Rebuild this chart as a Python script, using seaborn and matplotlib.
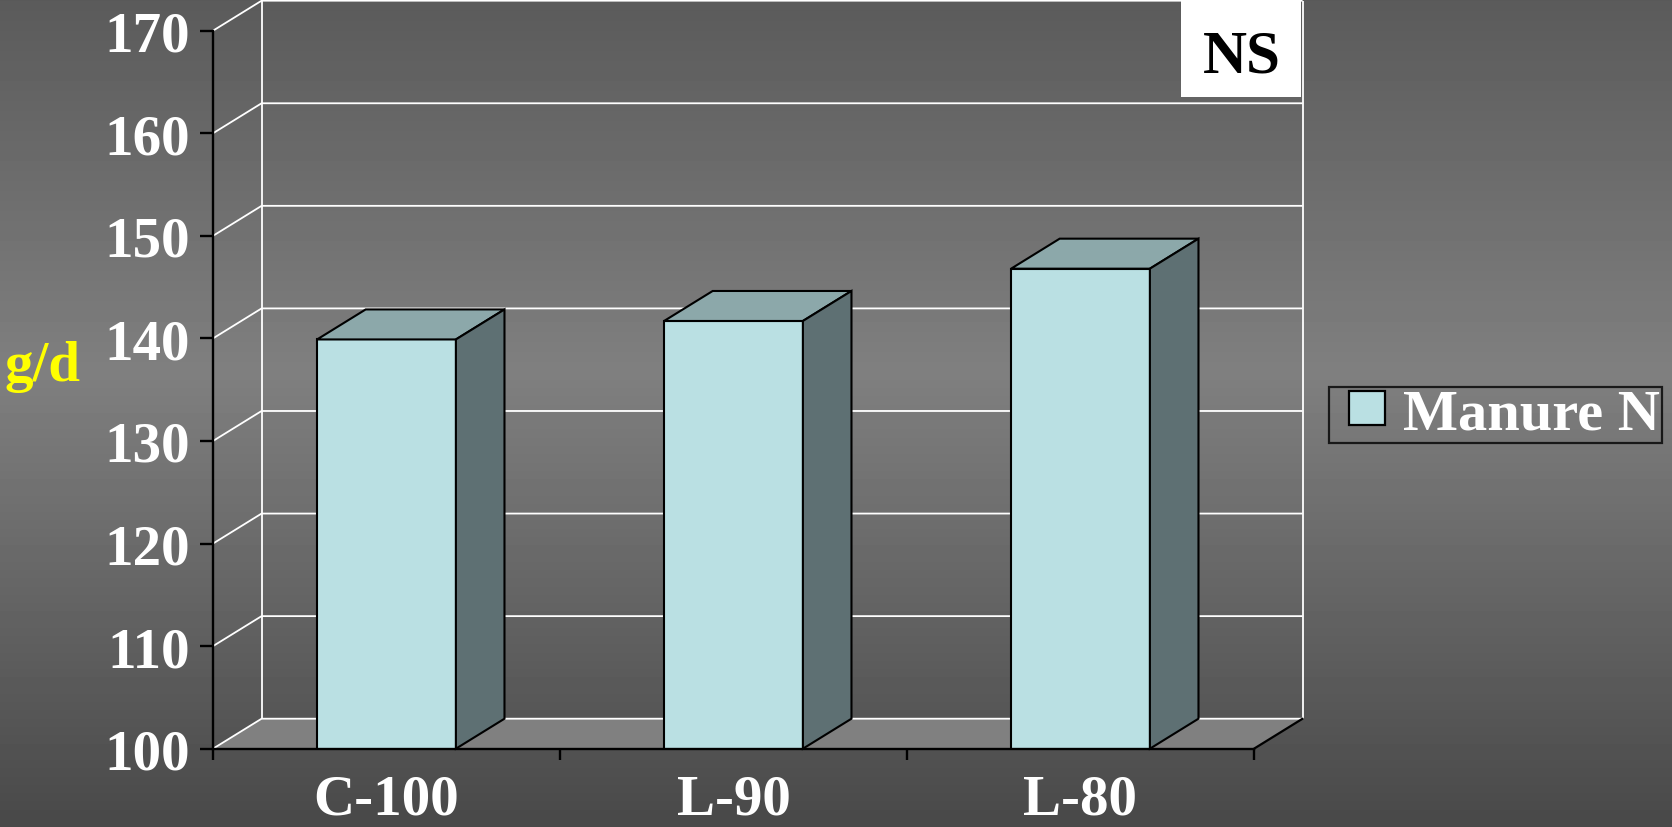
import numpy as np
import pandas as pd
import matplotlib
matplotlib.use("Agg")
import matplotlib.pyplot as plt
from matplotlib.patches import Polygon, Rectangle
from matplotlib.legend_handler import HandlerPatch
import seaborn as sns

# ---- data -------------------------------------------------------------
categories = ["C-100", "L-90", "L-80"]
manure_n = [139.9, 141.7, 146.8]
series_name = "Manure N"
y_ticks = [100, 110, 120, 130, 140, 150, 160, 170]
y_label = "g/d"
significance = "NS"

# ---- style ------------------------------------------------------------
front_color = "#bae0e3"
top_color = "#8ca8aa"
side_color = "#5e7073"
floor_color = "#808080"
FS = 41      # tick / axis text, pt
LEG_FS = 42  # legend text, pt

sns.set_theme(style="white")
plt.rcParams["font.family"] = ["Liberation Serif", "DejaVu Serif"]
plt.rcParams["font.weight"] = "bold"

W, H, DPI = 1672, 828, 100
fig = plt.figure(figsize=(W / DPI, H / DPI), dpi=DPI)

# vertical grey gradient behind everything
bg = fig.add_axes([0, 0, 1, 1], zorder=-10)
rows = np.linspace(0, 1, H)
shade = np.interp(rows, [0, 0.45, 1], [0.355, 0.50, 0.285])
bg.imshow(np.repeat(shade[:, None], 2, axis=1), cmap="gray", vmin=0, vmax=1,
          aspect="auto", extent=[0, 1, 0, 1], origin="upper")
bg.set_axis_off()

# front plane of the 3-D box
ax = fig.add_axes([213 / W, 1 - 749.7 / H, (1254 - 213) / W, (749.7 - 31.7) / H])
ax.set_facecolor("none")

df = pd.DataFrame({"treatment": categories, "value": manure_n,
                   "series": [series_name] * len(categories)})
sns.barplot(data=df, x="treatment", y="value", hue="series",
            palette=[front_color], saturation=1, width=0.4,
            edgecolor="black", linewidth=1.5, ax=ax, legend=True)
bars = list(ax.containers[0])

# depth of the pseudo 3-D box (category units, value units)
dx, dy = 0.14, 2.925
x0, x1 = -0.5, len(categories) - 0.5
ybot, ytop = y_ticks[0], y_ticks[-1]

# floor
ax.add_patch(Polygon([(x0, ybot), (x1, ybot), (x1 + dx, ybot + dy), (x0 + dx, ybot + dy)],
                     closed=True, facecolor=floor_color, edgecolor="none",
                     zorder=0.5, clip_on=False))

# gridlines on side wall and back wall
grid_kw = dict(color="white", lw=1.3, zorder=1, clip_on=False, solid_capstyle="butt")
for v in y_ticks:
    ax.plot([x0, x0 + dx, x1 + dx], [v, v + dy, v + dy], **grid_kw)
ax.plot([x0 + dx, x0 + dx], [ybot + dy, ytop + dy], **grid_kw)
ax.plot([x1 + dx, x1 + dx], [ybot + dy, ytop + dy], **grid_kw)
ax.plot([x1, x1 + dx], [ybot, ybot + dy], color="black", lw=1.6, zorder=1.2, clip_on=False)

# top and side faces of each column
for bar in bars:
    bar.set_zorder(3)
    bx, bw, top = bar.get_x(), bar.get_width(), bar.get_height()
    ax.add_patch(Polygon([(bx, top), (bx + bw, top), (bx + bw + dx, top + dy), (bx + dx, top + dy)],
                         closed=True, facecolor=top_color, edgecolor="black", lw=1.5,
                         zorder=3, clip_on=False, joinstyle="miter"))
    ax.add_patch(Polygon([(bx + bw, ybot), (bx + bw + dx, ybot + dy), (bx + bw + dx, top + dy), (bx + bw, top)],
                         closed=True, facecolor=side_color, edgecolor="black", lw=1.5,
                         zorder=3, clip_on=False, joinstyle="miter"))

ax.set_xlim(x0, x1)
ax.set_ylim(ybot, ytop)
ax.set_xlabel("")
ax.set_ylabel("")

# axes, ticks, labels
for s in ("top", "right"):
    ax.spines[s].set_visible(False)
for s in ("left", "bottom"):
    ax.spines[s].set_color("black")
    ax.spines[s].set_linewidth(1.7)
    ax.spines[s].set_zorder(4)

ax.set_yticks(y_ticks)
ax.tick_params(axis="y", left=True, direction="out", length=9.4, width=1.7,
               color="black", pad=7, labelsize=FS, labelcolor="white")
ax.set_xticks(range(len(categories)))
ax.set_xticklabels(categories)
ax.set_xticks(np.arange(x0, x1 + 0.01, 1), minor=True)
ax.tick_params(axis="x", which="major", bottom=False, length=0, pad=18,
               labelsize=FS, labelcolor="white")
ax.tick_params(axis="x", which="minor", bottom=True, direction="out", length=8,
               width=1.7, color="black")
for lab in ax.get_xticklabels() + ax.get_yticklabels():
    lab.set_fontweight("bold")

fig.text(5 / W, 1 - 381 / H, y_label, color="#ffff00", fontsize=FS,
         fontweight="bold", ha="left", va="baseline")

# significance marker
fig.add_artist(Rectangle((1181 / W, 1 - 98 / H), (1301 - 1181) / W, 98 / H + 0.01,
                         transform=fig.transFigure, facecolor="white",
                         edgecolor="none", zorder=5))
fig.text(1241.5 / W, 1 - 72.5 / H, significance, color="black", fontsize=44,
         fontweight="bold", ha="center", va="baseline", zorder=6)

# legend
fs_px = LEG_FS * DPI / 72
sns.move_legend(ax, loc="center left", bbox_to_anchor=(1329 / W, 1 - 416 / H),
                bbox_transform=fig.transFigure, title=None, frameon=True,
                fancybox=False, fontsize=LEG_FS, borderpad=2 / fs_px,
                borderaxespad=0, handlelength=54 / fs_px, handleheight=30 / fs_px,
                handletextpad=18 / fs_px,
                handler_map={Rectangle: HandlerPatch(xpad=18 / fs_px)})
leg = ax.get_legend()
frame = leg.get_frame()
frame.set_facecolor("none")
frame.set_edgecolor("black")
frame.set_linewidth(1.6)
for t in leg.get_texts():
    t.set_color("white")
    t.set_fontweight("bold")
for h in leg.legend_handles:
    h.set_edgecolor("black")
    h.set_linewidth(1.6)

fig.savefig("out.png", dpi=DPI)
